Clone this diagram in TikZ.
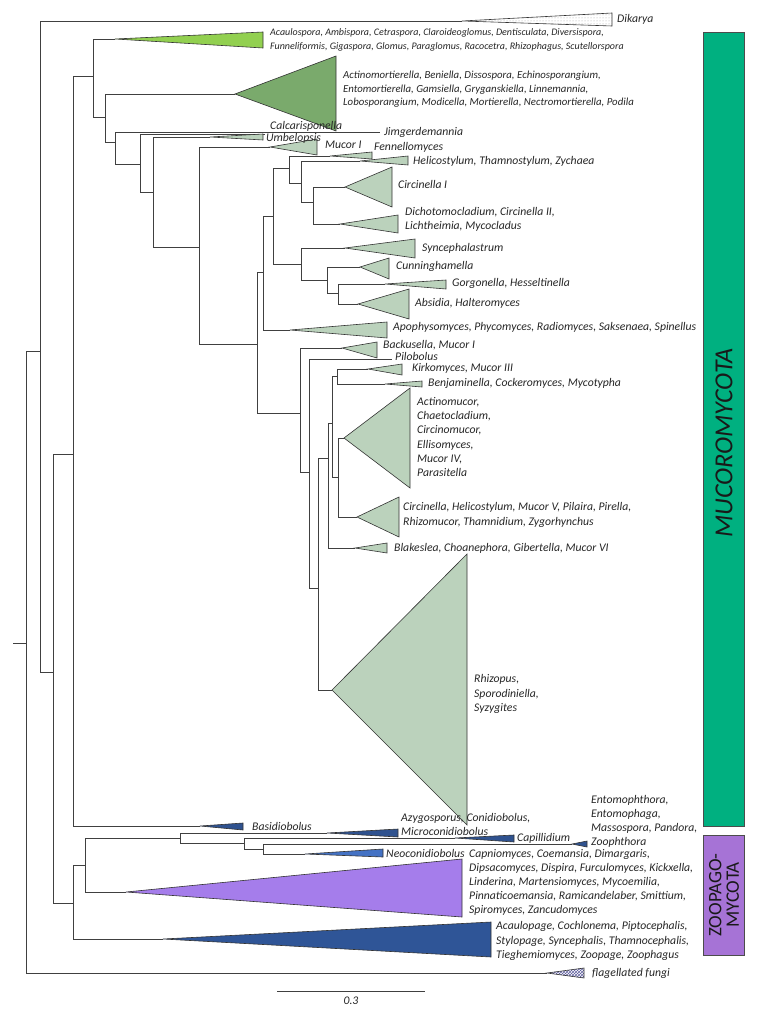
\documentclass[tikz,border=0pt]{standalone}
\usepackage{fontspec}
\setmainfont{Carlito}
\usepackage{tikz}
\usetikzlibrary{patterns}

\definecolor{glogreen}{RGB}{146,208,80}
\definecolor{mortgreen}{RGB}{122,170,108}
\definecolor{mucgreen}{RGB}{187,210,188}
\definecolor{entoblue}{RGB}{47,82,143}
\definecolor{neoblue}{RGB}{68,114,196}
\definecolor{kickpurple}{RGB}{165,125,235}
\definecolor{zoopblue}{RGB}{47,85,151}
\definecolor{mucbar}{RGB}{0,176,128}
\definecolor{zoopbar}{RGB}{166,115,214}

\begin{document}
\begin{tikzpicture}[x=1pt, y=-1pt,
  branch/.style={draw=black!75, line width=0.9pt},
  clade/.style={draw=black!80, line width=0.6pt},
  lab/.style={anchor=west, inner sep=0pt, text=black!85, align=left,
    font=\fontsize{11.7}{14.2}\selectfont\itshape}]
\useasboundingbox (0,0) rectangle (761,1014);

% internal nodes of the tree
\coordinate (rootL) at (13,643);
\coordinate (r0) at (26,643);
\coordinate (nA) at (40,351);
\coordinate (nB) at (53,672);
\coordinate (nC) at (73,454);
\coordinate (nD) at (93,76);
\coordinate (nE) at (105,117);
\coordinate (nF) at (115,142);
\coordinate (nG) at (140,164);
\coordinate (nH) at (153,192);
\coordinate (nI) at (199,247);
\coordinate (nJ) at (257,344);
\coordinate (nK) at (263,272);
\coordinate (nL) at (273,216);
\coordinate (nM) at (289,168);
\coordinate (nM2) at (301,183);
\coordinate (nM3) at (313,202);
\coordinate (nN) at (301,264);
\coordinate (nN2) at (327,280);
\coordinate (nN3) at (338,293);
\coordinate (nP) at (300,413);
\coordinate (nQ) at (309,472);
\coordinate (nR) at (318,588);
\coordinate (nS) at (328,458);
\coordinate (nT) at (332,423);
\coordinate (nU) at (337,376);
\coordinate (nV) at (338,477);
\coordinate (nZ) at (73,903);
\coordinate (nW) at (85,865);
\coordinate (nX) at (180,838);
\coordinate (nY) at (244,843);
\coordinate (nY2) at (263,849);

% tips: apex of each collapsed clade, end of single lineages
\coordinate (dika) at (462,21);
\coordinate (glom) at (115,39);
\coordinate (mort) at (235,94);
\coordinate (jimg) at (380,132);
\coordinate (calc) at (265,134);
\coordinate (umbe) at (210,137);
\coordinate (muc1) at (270,147);
\coordinate (fenn) at (330,156);
\coordinate (heli) at (360,161);
\coordinate (cir1) at (345,187);
\coordinate (dich) at (340,224);
\coordinate (sync) at (345,248);
\coordinate (cunn) at (360,267);
\coordinate (gorg) at (385,284);
\coordinate (absi) at (358,304);
\coordinate (apop) at (290,330);
\coordinate (back) at (342,348);
\coordinate (pilo) at (392,359);
\coordinate (kirk) at (368,369);
\coordinate (benj) at (385,384);
\coordinate (acti) at (344,438);
\coordinate (cirg) at (357,517);
\coordinate (blak) at (355,548);
\coordinate (rhiz) at (332,690);
\coordinate (basi) at (200,826);
\coordinate (azyg) at (327,833);
\coordinate (capi) at (455,838);
\coordinate (ento) at (572,844);
\coordinate (neoc) at (305,854);
\coordinate (kick) at (126,892);
\coordinate (zoop) at (163,939);
\coordinate (flag) at (547,973);

% branches
\draw[branch] (rootL) -- (r0);
\draw[branch] (r0) |- (nA) (r0) |- (flag);
\draw[branch] (nA) |- (dika) (nA) |- (nB);
\draw[branch] (nB) |- (nC) (nB) |- (nZ);
\draw[branch] (nC) |- (nD) (nC) |- (basi);
\draw[branch] (nD) |- (glom) (nD) |- (nE);
\draw[branch] (nE) |- (mort) (nE) |- (nF);
\draw[branch] (nF) |- (jimg) (nF) |- (nG);
\draw[branch] (nG) |- (calc) (nG) |- (nH);
\draw[branch] (nH) |- (umbe) (nH) |- (nI);
\draw[branch] (nI) |- (muc1) (nI) |- (nJ);
\draw[branch] (nJ) |- (nK) (nJ) |- (nP);
\draw[branch] (nK) |- (nL) (nK) |- (apop);
\draw[branch] (nL) |- (nM) (nL) |- (nN);
\draw[branch] (nM) |- (fenn) (nM) |- (nM2);
\draw[branch] (nM2) |- (heli) (nM2) |- (nM3);
\draw[branch] (nM3) |- (cir1) (nM3) |- (dich);
\draw[branch] (nN) |- (sync) (nN) |- (nN2);
\draw[branch] (nN2) |- (cunn) (nN2) |- (nN3);
\draw[branch] (nN3) |- (gorg) (nN3) |- (absi);
\draw[branch] (nP) |- (back) (nP) |- (nQ);
\draw[branch] (nQ) |- (pilo) (nQ) |- (nR);
\draw[branch] (nR) |- (nS) (nR) |- (rhiz);
\draw[branch] (nS) |- (nT) (nS) |- (blak);
\draw[branch] (nT) |- (nU) (nT) |- (nV);
\draw[branch] (nU) |- (kirk) (nU) |- (benj);
\draw[branch] (nV) |- (acti) (nV) |- (cirg);
\draw[branch] (nZ) |- (nW) (nZ) |- (zoop);
\draw[branch] (nW) |- (nX) (nW) |- (kick);
\draw[branch] (nX) |- (azyg) (nX) |- (nY);
\draw[branch] (nY) |- (capi) (nY) |- (nY2);
\draw[branch] (nY2) |- (ento) (nY2) |- (neoc);

% collapsed clades
\draw[clade, pattern=dots, pattern color=black!35] (dika) -- (612,13) -- (612,26) -- cycle;
\draw[clade, fill=glogreen] (glom) -- (263,32) -- (263,48) -- cycle;
\draw[clade, fill=mortgreen] (mort) -- (336,56) -- (336,131) -- cycle;
\draw[clade, fill=mucgreen] (umbe) -- (263,134) -- (263,140) -- cycle;
\draw[clade, fill=mucgreen] (muc1) -- (317,139) -- (317,155) -- cycle;
\draw[clade, fill=mucgreen] (fenn) -- (372,152) -- (372,159) -- cycle;
\draw[clade, fill=mucgreen] (heli) -- (408,156) -- (408,165) -- cycle;
\draw[clade, fill=mucgreen] (cir1) -- (392,167) -- (392,207) -- cycle;
\draw[clade, fill=mucgreen] (dich) -- (398,215) -- (398,233) -- cycle;
\draw[clade, fill=mucgreen] (sync) -- (415,239) -- (415,258) -- cycle;
\draw[clade, fill=mucgreen] (cunn) -- (389,258) -- (389,279) -- cycle;
\draw[clade, fill=mucgreen] (gorg) -- (446,280) -- (446,289) -- cycle;
\draw[clade, fill=mucgreen] (absi) -- (409,289) -- (409,319) -- cycle;
\draw[clade, fill=mucgreen] (apop) -- (387,322) -- (387,338) -- cycle;
\draw[clade, fill=mucgreen] (back) -- (377,342) -- (377,358) -- cycle;
\draw[clade, fill=mucgreen] (kirk) -- (402,364) -- (402,375) -- cycle;
\draw[clade, fill=mucgreen] (benj) -- (422,381) -- (422,387) -- cycle;
\draw[clade, fill=mucgreen] (acti) -- (410,388) -- (410,488) -- cycle;
\draw[clade, fill=mucgreen] (cirg) -- (399,497) -- (399,537) -- cycle;
\draw[clade, fill=mucgreen] (blak) -- (387,543) -- (387,553) -- cycle;
\draw[clade, fill=mucgreen] (rhiz) -- (467,554) -- (467,825) -- cycle;
\draw[clade, fill=entoblue] (basi) -- (243,823) -- (243,830) -- cycle;
\draw[clade, fill=entoblue] (azyg) -- (398,829) -- (398,837) -- cycle;
\draw[clade, fill=entoblue] (capi) -- (514,835) -- (514,842) -- cycle;
\draw[clade, fill=entoblue] (ento) -- (587,841) -- (587,847) -- cycle;
\draw[clade, fill=neoblue] (neoc) -- (383,849) -- (383,857) -- cycle;
\draw[clade, fill=kickpurple] (kick) -- (462,859) -- (462,917) -- cycle;
\draw[clade, fill=zoopblue] (zoop) -- (491,922) -- (491,957) -- cycle;
\draw[clade, pattern=crosshatch, pattern color=blue!25!gray] (flag) -- (584,968) -- (584,978) -- cycle;

% clade labels
\node[lab] (dikaL) at (617,19) {Dikarya};
\node[lab, font=\fontsize{10}{14}\selectfont\itshape] (glomL) at (270,40) {Acaulospora, Ambispora, Cetraspora, Claroideoglomus, Dentisculata, Diversispora,\\
  Funneliformis, Gigaspora, Glomus, Paraglomus, Racocetra, Rhizophagus, Scutellorspora};
\node[lab, font=\fontsize{10.8}{13.6}\selectfont\itshape] (mortL) at (343,89.5) {Actinomortierella, Beniella, Dissospora, Echinosporangium,\\
  Entomortierella, Gamsiella, Gryganskiella, Linnemannia,\\
  Lobosporangium, Modicella, Mortierella, Nectromortierella, Podila};
\node[lab] (calcL) at (270,126) {Calcarisponella};
\node[lab] (umbeL) at (266,138) {Umbelopsis};
\node[lab] (jimgL) at (384,132) {Jimgerdemannia};
\node[lab] (muc1L) at (325,145) {Mucor I};
\node[lab] (fennL) at (374,147) {Fennellomyces};
\node[lab] (heliL) at (413,161) {Helicostylum, Thamnostylum, Zychaea};
\node[lab] (cir1L) at (398,184) {Circinella I};
\node[lab] (dichL) at (405,219.5) {Dichotomocladium, Circinella II,\\ Lichtheimia, Mycocladus};
\node[lab] (syncL) at (422,248) {Syncephalastrum};
\node[lab] (cunnL) at (396,266) {Cunninghamella};
\node[lab] (gorgL) at (452,283) {Gorgonella, Hesseltinella};
\node[lab] (absiL) at (415,303) {Absidia, Halteromyces};
\node[lab] (apopL) at (393,327) {Apophysomyces, Phycomyces, Radiomyces, Saksenaea, Spinellus};
\node[lab] (backL) at (383,345) {Backusella, Mucor I};
\node[lab] (piloL) at (395,356) {Pilobolus};
\node[lab] (kirkL) at (412,368) {Kirkomyces, Mucor III};
\node[lab] (benjL) at (428,383) {Benjaminella, Cockeromyces, Mycotypha};
\node[lab] (actiL) at (417,437) {Actinomucor,\\ Chaetocladium,\\ Circinomucor,\\ Ellisomyces,\\ Mucor IV,\\ Parasitella};
\node[lab] (cirgL) at (403,515) {Circinella, Helicostylum, Mucor V, Pilaira, Pirella,\\ Rhizomucor, Thamnidium, Zygorhynchus};
\node[lab] (blakL) at (394,548) {Blakeslea, Choanephora, Gibertella, Mucor VI};
\node[lab] (rhizL) at (474,694) {Rhizopus,\\ Sporodiniella,\\ Syzygites};
\node[lab] (basiL) at (252,826) {Basidiobolus};
\node[lab] (azygL) at (401,824.5) {Azygosporus, Conidiobolus,\\ Microconidiobolus};
\node[lab] (capiL) at (517,838) {Capillidium};
\node[lab] (entoL) at (591,821.5) {Entomophthora,\\ Entomophaga,\\ Massospora, Pandora,\\ Zoophthora};
\node[lab] (neocL) at (386,853) {Neoconidiobolus};
\node[lab] (kickL) at (469,882.5) {Capniomyces, Coemansia, Dimargaris,\\ Dipsacomyces, Dispira, Furculomyces, Kickxella,\\ Linderina, Martensiomyces, Mycoemilia,\\ Pinnaticoemansia, Ramicandelaber, Smittium,\\ Spiromyces, Zancudomyces};
\node[lab] (zoopL) at (496,941) {Acaulopage, Cochlonema, Piptocephalis,\\ Stylopage, Syncephalis, Thamnocephalis,\\ Tieghemiomyces, Zoopage, Zoophagus};
\node[lab] (flagL) at (592,973) {flagellated fungi};

% phylum bars
\draw[draw=black!70, fill=mucbar] (703,32) rectangle (744,826);
\draw[draw=black!70, fill=zoopbar] (703,835) rectangle (744,955);
\node[rotate=90, text=black!90, font=\fontsize{26}{28}\selectfont\itshape] (mucoT) at (724,443) {MUCOROMYCOTA};
\node[rotate=90, text=black!90, align=center, font=\fontsize{19}{17.5}\selectfont] (zoopT) at (724,895) {ZOOPAGO-\\ MYCOTA};

% scale bar
\coordinate (sb1) at (277,991);
\coordinate (sb2) at (425,991);
\draw[branch] (sb1) -- (sb2);
\node[lab, anchor=center] (sbL) at (351,1001) {0.3};
\end{tikzpicture}
\end{document}
